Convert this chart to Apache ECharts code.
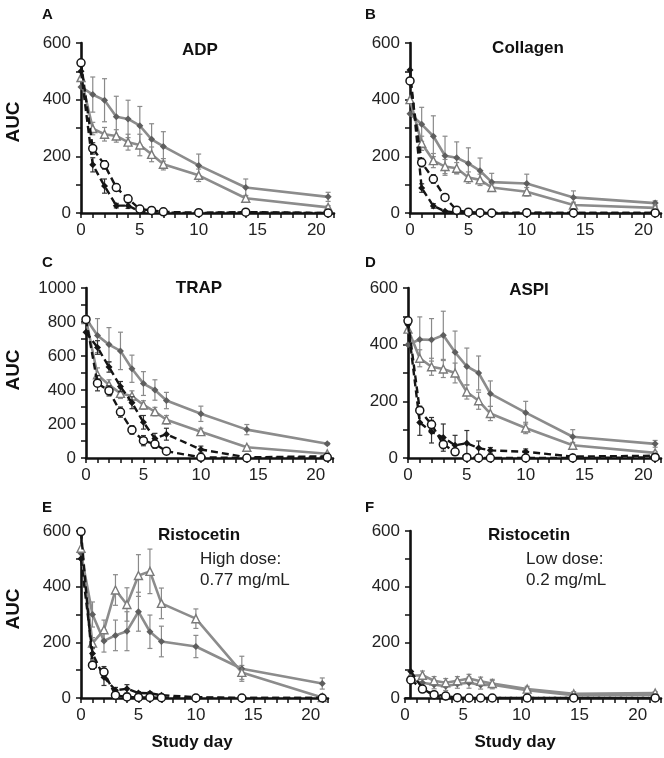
<!DOCTYPE html>
<html>
<head>
<meta charset="utf-8">
<script src="https://cdn.jsdelivr.net/npm/echarts@6/dist/echarts.min.js"></script>
<style>
html,body{margin:0;padding:0;background:#fff;}
#chart{width:664px;height:758px;}
</style>
</head>
<body>
<div id="chart"></div>
<script>
// ---- Data ----
const days = [0, 1, 2, 3, 4, 5, 6, 7, 10, 14, 21];
const daysF = [0.5, 1.5, 2.5, 3.5, 4.5, 5.5, 6.5, 7.5, 10.5, 14.5, 21.5];
const xTickLabels = [0, 5, 10, 15, 20];

// A: ADP
const adpS1 = [445, 418, 398, 340, 332, 308, 260, 235, 168, 90, 57];
const adpS1Err = [0, 62, 76, 72, 66, 68, 55, 52, 40, 30, 16];
const adpS2 = [478, 298, 278, 272, 250, 240, 207, 172, 133, 52, 20];
const adpS2Err = [0, 22, 24, 22, 28, 38, 26, 20, 22, 10, 6];
const adpS3 = [500, 170, 95, 26, 26, 5, 3, 1, 0, 2, 0];
const adpS3Err = [0, 25, 25, 8, 10, 3, 2, 0, 0, 0, 0];
const adpS4 = [530, 228, 170, 90, 50, 14, 9, 4, 1, 3, 0];
const adpS4Err = [0, 20, 15, 12, 12, 5, 3, 0, 0, 0, 0];

// B: Collagen
const colS1 = [350, 313, 271, 202, 195, 175, 149, 109, 104, 55, 35];
const colS1Err = [0, 60, 72, 69, 56, 55, 45, 31, 33, 23, 8];
const colS2 = [400, 246, 185, 164, 158, 125, 117, 90, 75, 28, 18];
const colS2Err = [0, 25, 25, 25, 20, 20, 20, 12, 15, 10, 5];
const colS3 = [505, 88, 25, 6, 2, 0, 0, 0, 0, 0, 0];
const colS3Err = [0, 15, 8, 3, 0, 0, 0, 0, 0, 0, 0];
const colS4 = [466, 178, 120, 55, 10, 3, 1, 0, 1, 0, 0];
const colS4Err = [0, 15, 15, 10, 5, 0, 0, 0, 0, 0, 0];

// C: TRAP
const trapS1 = [820, 720, 667, 630, 525, 438, 400, 338, 260, 167, 84];
const trapS1Err = [0, 100, 100, 110, 80, 70, 60, 48, 45, 30, 6];
const trapS2 = [815, 490, 430, 380, 365, 312, 273, 225, 155, 63, 25];
const trapS2Err = [0, 40, 30, 30, 30, 25, 25, 25, 20, 10, 5];
const trapS3 = [740, 650, 535, 420, 325, 210, 115, 140, 50, 4, 10];
const trapS3Err = [0, 40, 30, 30, 35, 40, 30, 35, 20, 3, 3];
const trapS4 = [815, 440, 395, 270, 165, 102, 82, 40, 4, 0, 4];
const trapS4Err = [0, 45, 30, 30, 25, 30, 25, 10, 3, 0, 0];

// D: ASPI
const aspiS1 = [400, 418, 417, 433, 373, 323, 300, 227, 160, 75, 50];
const aspiS1Err = [0, 80, 75, 85, 75, 65, 60, 45, 40, 25, 12];
const aspiS2 = [455, 352, 322, 314, 300, 233, 202, 157, 106, 45, 18];
const aspiS2Err = [0, 30, 30, 30, 35, 25, 30, 25, 20, 10, 5];
const aspiS3 = [470, 125, 93, 72, 45, 52, 35, 27, 22, 5, 8];
const aspiS3Err = [0, 45, 40, 48, 35, 45, 25, 10, 10, 3, 5];
const aspiS4 = [484, 168, 118, 48, 22, 2, 0, 0, 0, 0, 2];
const aspiS4Err = [0, 15, 25, 15, 10, 0, 0, 0, 0, 0, 0];

// E: Ristocetin high dose
const ristoHS1 = [520, 300, 205, 225, 240, 310, 238, 203, 185, 105, 52];
const ristoHS1Err = [0, 45, 40, 55, 70, 70, 60, 55, 40, 45, 20];
const ristoHS2 = [538, 197, 245, 388, 336, 440, 455, 340, 285, 92, 2];
const ristoHS2Err = [0, 20, 35, 55, 60, 75, 80, 55, 35, 25, 3];
const ristoHS3 = [500, 160, 75, 28, 33, 18, 17, 10, 3, 0, 0];
const ristoHS3Err = [0, 20, 30, 10, 15, 5, 5, 3, 0, 0, 0];
const ristoHS4 = [598, 118, 93, 10, 4, 2, 2, 1, 0, 0, 0];
const ristoHS4Err = [0, 15, 20, 5, 0, 0, 0, 0, 0, 0, 0];

// F: Ristocetin low dose
const ristoLS1 = [65, 55, 48, 42, 50, 55, 47, 48, 28, 10, 12];
const ristoLS1Err = [0, 15, 15, 15, 15, 20, 15, 15, 8, 5, 5];
const ristoLS2 = [80, 82, 62, 55, 62, 70, 60, 52, 32, 15, 18];
const ristoLS2Err = [0, 15, 15, 15, 15, 15, 15, 15, 10, 8, 5];
const ristoLS3 = [95, 35, 8, 3, 1, 0, 0, 0, 0, 0, 0];
const ristoLS3Err = [0, 8, 4, 0, 0, 0, 0, 0, 0, 0, 0];
const ristoLS4 = [65, 32, 12, 7, 1, 0, 0, 0, 0, 0, 0];
const ristoLS4Err = [0, 8, 4, 0, 0, 0, 0, 0, 0, 0, 0];

// ---- Layout / style ----
const FONT = 'Liberation Sans, Arial, Helvetica, sans-serif';
const panels = [
  {letter:'A', title:'ADP', left:81, top:43, width:253, height:170, ymax:600, xmax:21.5, x:days, yOff:0,
   s:[[adpS1,adpS1Err],[adpS2,adpS2Err],[adpS3,adpS3Err],[adpS4,adpS4Err]]},
  {letter:'B', title:'Collagen', left:410, top:43, width:251, height:170, ymax:600, xmax:21.5, x:days, yOff:0,
   s:[[colS1,colS1Err],[colS2,colS2Err],[colS3,colS3Err],[colS4,colS4Err]]},
  {letter:'C', title:'TRAP', left:86, top:288, width:247, height:170, ymax:1000, xmax:21.5, x:days, yOff:0,
   s:[[trapS1,trapS1Err],[trapS2,trapS2Err],[trapS3,trapS3Err],[trapS4,trapS4Err]]},
  {letter:'D', title:'ASPI', left:408, top:288, width:253, height:170, ymax:600, xmax:21.5, x:days, yOff:0,
   s:[[aspiS1,aspiS1Err],[aspiS2,aspiS2Err],[aspiS3,aspiS3Err],[aspiS4,aspiS4Err]]},
  {letter:'E', title:'Ristocetin', left:81, top:531, width:247, height:167, ymax:600, xmax:21.5, x:days, yOff:0,
   s:[[ristoHS1,ristoHS1Err],[ristoHS2,ristoHS2Err],[ristoHS3,ristoHS3Err],[ristoHS4,ristoHS4Err]]},
  {letter:'F', title:'Ristocetin', left:405, top:531, width:256, height:167, ymax:600, xmax:22, x:daysF, yOff:-5,
   s:[[ristoLS1,ristoLS1Err],[ristoLS2,ristoLS2Err],[ristoLS3,ristoLS3Err],[ristoLS4,ristoLS4Err]]}
];

const GRAY = '#8c8c8c';
const BLACK = '#151515';
const seriesStyles = [
  {symbol:'diamond', symbolSize:7, item:{color:'#5e5e5e'}, line:{color:GRAY, width:2.6}, err:'#8a8a8a', z:2},
  {symbol:'triangle', symbolSize:8, item:{color:'#fff', borderColor:'#7a7a7a', borderWidth:1.4}, line:{color:GRAY, width:2.6}, err:'#8a8a8a', z:2},
  {symbol:'diamond', symbolSize:7, item:{color:BLACK}, line:{color:BLACK, width:2.4, type:[7,4]}, err:'#333', z:4},
  {symbol:'circle', symbolSize:8, item:{color:'#fff', borderColor:BLACK, borderWidth:1.5}, line:{color:BLACK, width:2.4, type:[7,4]}, err:'#333', z:5}
];

function errRender(color) {
  return function (params, api) {
    const x = api.value(0), y = api.value(1), e = api.value(2);
    if (!e) return null;
    const top = api.coord([x, y + e]);
    const bot = api.coord([x, Math.max(0, y - e)]);
    const w = 2.5;
    const st = {stroke: color, lineWidth: 1.2};
    return {type:'group', children:[
      {type:'line', shape:{x1:top[0], y1:top[1], x2:bot[0], y2:bot[1]}, style:st},
      {type:'line', shape:{x1:top[0]-w, y1:top[1], x2:top[0]+w, y2:top[1]}, style:st},
      {type:'line', shape:{x1:bot[0]-w, y1:bot[1], x2:bot[0]+w, y2:bot[1]}, style:st}
    ]};
  };
}

const grid = [], xAxis = [], yAxis = [], series = [], graphic = [];
panels.forEach((p, i) => {
  grid.push({left:p.left, top:p.top, width:p.width, height:p.height});
  xAxis.push({
    type:'value', gridIndex:i, min:0, max:p.xmax, interval:1,
    axisLine:{show:true, onZero:false, lineStyle:{color:'#111', width:2.6}},
    axisTick:{show:true, length:5, lineStyle:{color:'#111', width:1.5}},
    axisLabel:{fontFamily:FONT, fontSize:17, color:'#222', margin:9,
      formatter:v => (xTickLabels.indexOf(v) >= 0 ? String(v) : '')},
    splitLine:{show:false}
  });
  yAxis.push({
    type:'value', gridIndex:i, min:0, max:p.ymax, interval:100, offset:p.yOff,
    axisLine:{show:true, onZero:false, lineStyle:{color:'#111', width:2.6}},
    axisTick:{show:true, length:5, lineStyle:{color:'#111', width:1.5}},
    axisLabel:{fontFamily:FONT, fontSize:17, color:'#222', margin:10,
      formatter:v => (v % 200 === 0 ? String(v) : '')},
    splitLine:{show:false}
  });
  p.s.forEach((pair, k) => {
    const st = seriesStyles[k];
    const vals = pair[0], errs = pair[1];
    series.push({
      type:'custom', xAxisIndex:i, yAxisIndex:i, z:st.z - 1, silent:true,
      renderItem: errRender(st.err),
      data: p.x.map((d, j) => [d, vals[j], errs[j]]),
      encode:{x:0, y:1}
    });
    series.push({
      type:'line', xAxisIndex:i, yAxisIndex:i, z:st.z,
      symbol:st.symbol, symbolSize:st.symbolSize, showAllSymbol:true,
      itemStyle:st.item, lineStyle:st.line,
      data: p.x.map((d, j) => [d, vals[j]])
    });
  });
});

// Text annotations
const letterPos = [[42,15],[365,15],[42,263],[365,263],[42,508],[365,508]];
const titlePos = [[200,50],[528,48],[199,288],[529,290],[199,535],[529,535]];
panels.forEach((p, i) => {
  graphic.push({type:'text', x:letterPos[i][0], y:letterPos[i][1],
    style:{text:p.letter, font:'bold 15px ' + FONT, fill:'#111', textAlign:'left', textVerticalAlign:'middle'}});
  graphic.push({type:'text', x:titlePos[i][0], y:titlePos[i][1],
    style:{text:p.title, font:'bold 17px ' + FONT, fill:'#111', textAlign:'center', textVerticalAlign:'middle'}});
});
[['High dose:',200,559],['0.77 mg/mL',200,580],['Low dose:',526,559],['0.2 mg/mL',526,580]].forEach(t => {
  graphic.push({type:'text', x:t[1], y:t[2],
    style:{text:t[0], font:'17px ' + FONT, fill:'#222', textAlign:'left', textVerticalAlign:'middle'}});
});
[122, 370, 609].forEach(cy => {
  graphic.push({type:'text', x:14, y:cy, rotation:Math.PI/2,
    style:{text:'AUC', font:'bold 19px ' + FONT, fill:'#111', textAlign:'center', textVerticalAlign:'middle'}});
});
[[192,742],[515,742]].forEach(t => {
  graphic.push({type:'text', x:t[0], y:t[1],
    style:{text:'Study day', font:'bold 17px ' + FONT, fill:'#111', textAlign:'center', textVerticalAlign:'middle'}});
});

const chart = echarts.init(document.getElementById('chart'), null, {renderer:'canvas'});
chart.setOption({animation:false, backgroundColor:'#fff', grid, xAxis, yAxis, series, graphic});
</script>
</body>
</html>
